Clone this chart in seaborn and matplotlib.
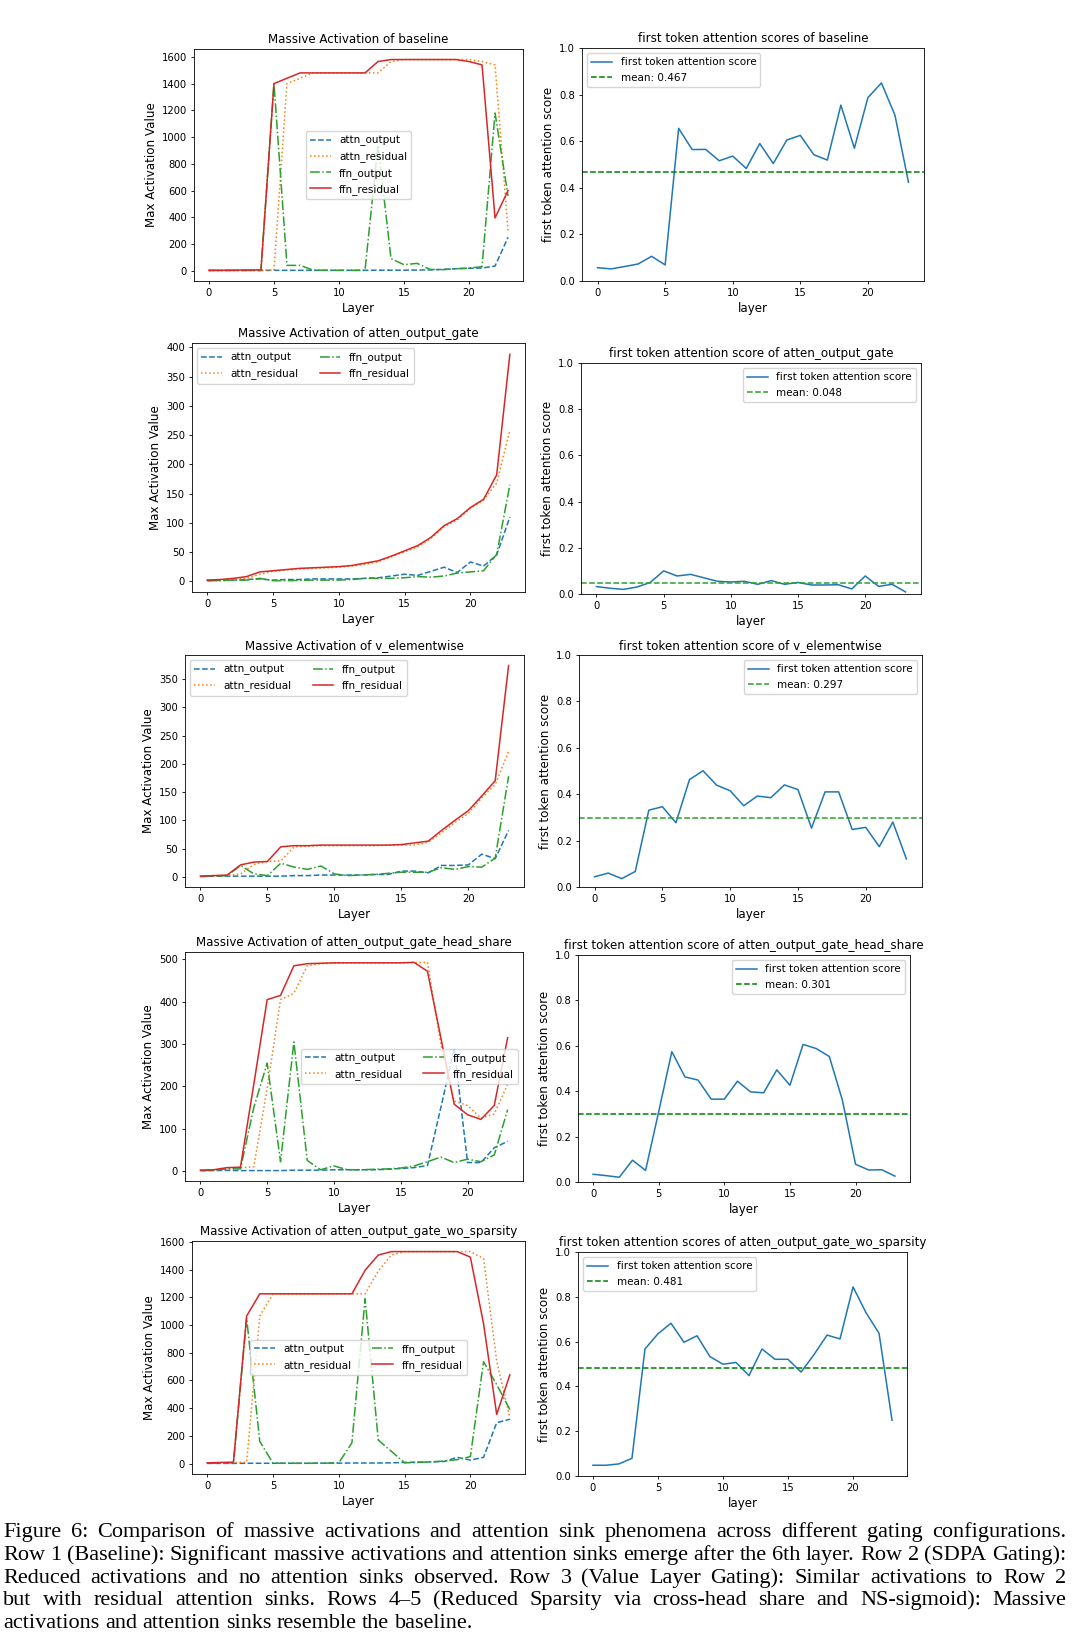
import numpy as np
import pandas as pd
import seaborn as sns
import matplotlib.pyplot as plt
from matplotlib.ticker import MultipleLocator

W, H = 1075, 1645
layers = list(range(24))

# massive activation values (rows 1-5)
base_attn_out = [2, 2, 2, 2, 2, 3, 3, 3, 3, 3, 3, 3, 3, 4, 4, 4, 5, 6, 10, 15, 18, 20, 35, 250]
base_attn_res = [2, 3, 3, 4, 5, 5, 1400, 1440, 1480, 1480, 1480, 1480, 1480, 1480, 1565, 1580, 1580, 1580, 1580, 1580, 1580, 1565, 1540, 300]
base_ffn_out = [2, 2, 2, 2, 2, 1400, 40, 40, 5, 3, 3, 3, 3, 940, 90, 45, 55, 10, 8, 15, 20, 30, 1180, 560]
base_ffn_res = [3, 3, 4, 5, 6, 1400, 1440, 1480, 1480, 1480, 1480, 1480, 1480, 1565, 1580, 1580, 1580, 1580, 1580, 1580, 1565, 1540, 395, 600]

gate_attn_out = [1, 1.5, 2, 3, 4, 2, 3, 3, 4, 4, 4, 4, 5, 6, 9, 12, 10, 17, 24, 15, 33, 26, 45, 110]
gate_attn_res = [2, 2, 3, 5, 12, 17, 19, 21, 22, 23, 24, 26, 29, 33, 42, 50, 59, 73, 93, 105, 125, 139, 168, 258]
gate_ffn_out = [1, 1, 2, 2, 5, 1, 1, 1.5, 2, 2, 2, 3, 5, 5, 5, 6, 8, 7, 9, 14, 16, 18, 46, 165]
gate_ffn_res = [2, 3, 5, 8, 16, 18, 20, 22, 23, 24, 25, 27, 31, 35, 43, 52, 61, 75, 95, 107, 126, 140, 182, 388]

v_attn_out = [0.5, 1, 1, 1, 1, 1, 1, 2, 2, 3, 3, 3, 3, 4, 4, 10, 10, 7, 20, 20, 21, 40, 32, 82]
v_attn_res = [1, 2, 2, 5, 22, 27, 28, 53, 54, 55, 55, 55, 55, 55, 56, 56, 56, 61, 78, 96, 112, 140, 163, 222]
v_ffn_out = [0.5, 1, 2, 20, 5, 2, 24, 17, 13, 19, 5, 2, 3, 4, 6, 8, 8, 8, 16, 13, 18, 17, 33, 178]
v_ffn_res = [1, 2, 3, 21, 26, 27, 53, 55, 55, 56, 56, 56, 56, 56, 56, 57, 60, 63, 82, 100, 117, 143, 170, 374]

hs_attn_out = [1, 1, 1.5, 1, 1, 1, 1, 2, 2, 2, 3, 3, 3, 3, 4, 6, 8, 13, 150, 290, 20, 20, 55, 70]
hs_attn_res = [1, 2, 5, 8, 10, 195, 405, 420, 485, 490, 491, 492, 492, 492, 492, 492, 493, 493, 300, 165, 155, 125, 135, 205]
hs_ffn_out = [1, 2, 5, 5, 150, 255, 22, 305, 25, 3, 12, 3, 3, 4, 5, 7, 12, 22, 33, 20, 28, 22, 38, 145]
hs_ffn_res = [2, 3, 8, 9, 205, 405, 415, 485, 490, 491, 492, 492, 492, 492, 492, 492, 493, 472, 315, 158, 133, 122, 155, 315]

wo_attn_out = [1, 1, 1, 2, 2, 2, 2, 2, 2, 3, 3, 4, 4, 4, 5, 8, 10, 12, 15, 45, 25, 45, 295, 320]
wo_attn_res = [2, 5, 8, 10, 1065, 1225, 1225, 1225, 1225, 1225, 1225, 1225, 1225, 1390, 1505, 1530, 1530, 1530, 1530, 1530, 1530, 1480, 740, 330]
wo_ffn_out = [2, 3, 5, 1050, 160, 3, 2, 2, 2, 3, 5, 150, 1190, 170, 88, 5, 8, 12, 18, 28, 50, 735, 570, 390]
wo_ffn_res = [5, 8, 10, 1065, 1225, 1225, 1225, 1225, 1225, 1225, 1225, 1225, 1395, 1505, 1530, 1530, 1530, 1530, 1530, 1530, 1490, 1010, 355, 640]

# first token attention scores
base_first = [0.057, 0.052, 0.062, 0.073, 0.106, 0.069, 0.655, 0.564, 0.565, 0.516, 0.536, 0.483, 0.590, 0.504, 0.605, 0.625, 0.542, 0.519, 0.755, 0.570, 0.787, 0.850, 0.712, 0.424]
gate_first = [0.032, 0.025, 0.020, 0.030, 0.050, 0.100, 0.078, 0.085, 0.070, 0.055, 0.052, 0.055, 0.042, 0.058, 0.042, 0.050, 0.039, 0.039, 0.040, 0.022, 0.078, 0.033, 0.042, 0.009]
v_first = [0.044, 0.060, 0.036, 0.067, 0.331, 0.346, 0.277, 0.463, 0.501, 0.439, 0.415, 0.350, 0.392, 0.385, 0.440, 0.420, 0.254, 0.410, 0.410, 0.248, 0.257, 0.174, 0.280, 0.121]
hs_first = [0.034, 0.028, 0.021, 0.096, 0.051, 0.310, 0.574, 0.463, 0.449, 0.365, 0.365, 0.444, 0.397, 0.393, 0.494, 0.426, 0.606, 0.588, 0.553, 0.360, 0.078, 0.053, 0.054, 0.026]
wo_first = [0.048, 0.048, 0.054, 0.079, 0.567, 0.635, 0.682, 0.597, 0.626, 0.533, 0.499, 0.507, 0.448, 0.567, 0.521, 0.521, 0.464, 0.542, 0.629, 0.612, 0.844, 0.729, 0.637, 0.249]
means = [0.467, 0.048, 0.297, 0.301, 0.481]

configs = ["baseline", "atten_output_gate", "v_elementwise", "atten_output_gate_head_share", "atten_output_gate_wo_sparsity"]
score_word = ["scores", "score", "score", "score", "scores"]

massive = [
    [base_attn_out, base_attn_res, base_ffn_out, base_ffn_res],
    [gate_attn_out, gate_attn_res, gate_ffn_out, gate_ffn_res],
    [v_attn_out, v_attn_res, v_ffn_out, v_ffn_res],
    [hs_attn_out, hs_attn_res, hs_ffn_out, hs_ffn_res],
    [wo_attn_out, wo_attn_res, wo_ffn_out, wo_ffn_res],
]
firsts = [base_first, gate_first, v_first, hs_first, wo_first]

series = [("attn_output", "#1f77b4", "--"), ("attn_residual", "#ff7f0e", ":"),
          ("ffn_output", "#2ca02c", "-."), ("ffn_residual", "#d62728", "-")]

caption = [
    "Figure 6: Comparison of massive activations and attention sink phenomena across different gating configurations.",
    "Row 1 (Baseline): Significant massive activations and attention sinks emerge after the 6th layer. Row 2 (SDPA Gating):",
    "Reduced activations and no attention sinks observed.  Row 3 (Value Layer Gating): Similar activations to Row 2",
    "but with residual attention sinks.  Rows 4\u20135 (Reduced Sparsity via cross-head share and NS-sigmoid): Massive",
    "activations and attention sinks resemble the baseline.",
]

# layout in pixels: x0, x1, top, bottom
left_boxes = [(194, 523, 49, 281), (192, 525, 343, 592), (185, 524, 655, 887), (185, 523, 952, 1181), (192, 525, 1241, 1474)]
right_boxes = [(582, 924, 48, 281), (581, 921, 363, 594), (579, 922, 655, 887), (578, 910, 955, 1182), (578, 907, 1252, 1476)]
ymajor = [200, 50, 50, 100, 200]
left_legend = [dict(loc="center", ncol=1), dict(loc="upper left", ncol=2), dict(loc="upper left", ncol=2),
               dict(loc="center right", ncol=2), dict(loc="center", ncol=2)]
right_legend = ["upper left", "upper right", "upper right", "upper right", "upper left"]
mean_colors = ["green", "#2ca02c", "#2ca02c", "green", "green"]

plt.rcParams.update({
    "font.family": "DejaVu Sans", "font.size": 7.2, "axes.titlesize": 8.6, "axes.labelsize": 8.6,
    "axes.linewidth": 0.6, "xtick.major.size": 2.5, "ytick.major.size": 2.5,
    "xtick.major.width": 0.6, "ytick.major.width": 0.6,
    "xtick.major.pad": 2.5, "ytick.major.pad": 2.5, "axes.labelpad": 2.9,
    "axes.titlepad": 4.3, "legend.fontsize": 7.5,
})


def box(b):
    x0, x1, top, bottom = b
    return [x0 / W, 1 - bottom / H, (x1 - x0) / W, (bottom - top) / H]


fig = plt.figure(figsize=(W / 100, H / 100), dpi=100)

for i in range(5):
    ax = fig.add_axes(box(left_boxes[i]))
    df = pd.DataFrame({"Layer": layers})
    for (name, color, ls), vals in zip(series, massive[i]):
        df[name] = vals
        sns.lineplot(data=df, x="Layer", y=name, ax=ax, color=color, linestyle=ls, lw=1.1, label=name)
    ax.set_title("Massive Activation of " + configs[i])
    ax.set_xlabel("Layer")
    ax.set_ylabel("Max Activation Value")
    ax.xaxis.set_major_locator(MultipleLocator(5))
    ax.yaxis.set_major_locator(MultipleLocator(ymajor[i]))
    ax.legend(**left_legend[i])

    ax = fig.add_axes(box(right_boxes[i]))
    sdf = pd.DataFrame({"layer": layers, "score": firsts[i]})
    sns.lineplot(data=sdf, x="layer", y="score", ax=ax, color="#1f77b4", lw=1.1, label="first token attention score")
    ax.axhline(means[i], color=mean_colors[i], linestyle="--", lw=1.1, label="mean: %.3f" % means[i])
    ax.set_ylim(0, 1)
    ax.set_title("first token attention %s of %s" % (score_word[i], configs[i]))
    ax.set_xlabel("layer")
    ax.set_ylabel("first token attention score")
    ax.xaxis.set_major_locator(MultipleLocator(5))
    ax.legend(loc=right_legend[i])

# justified caption
renderer = fig.canvas.get_renderer()
cap_size = 16
baselines = [1537, 1560, 1583, 1605, 1628]
x_left, x_right = 3, 1066
for k, line in enumerate(caption):
    words = line.split()
    texts = [fig.text(0, 1 - baselines[k] / H, w, fontsize=cap_size, family="Liberation Serif",
                      va="baseline", ha="left") for w in words]
    widths = [t.get_window_extent(renderer).width for t in texts]
    if k < len(caption) - 1:
        gap = (x_right - x_left - sum(widths)) / (len(words) - 1)
    else:
        gap = cap_size * 100 / 72 * 0.25
    x = x_left
    for t, wd in zip(texts, widths):
        t.set_x(x / W)
        x += wd + gap

fig.savefig("out.png", dpi=100)
